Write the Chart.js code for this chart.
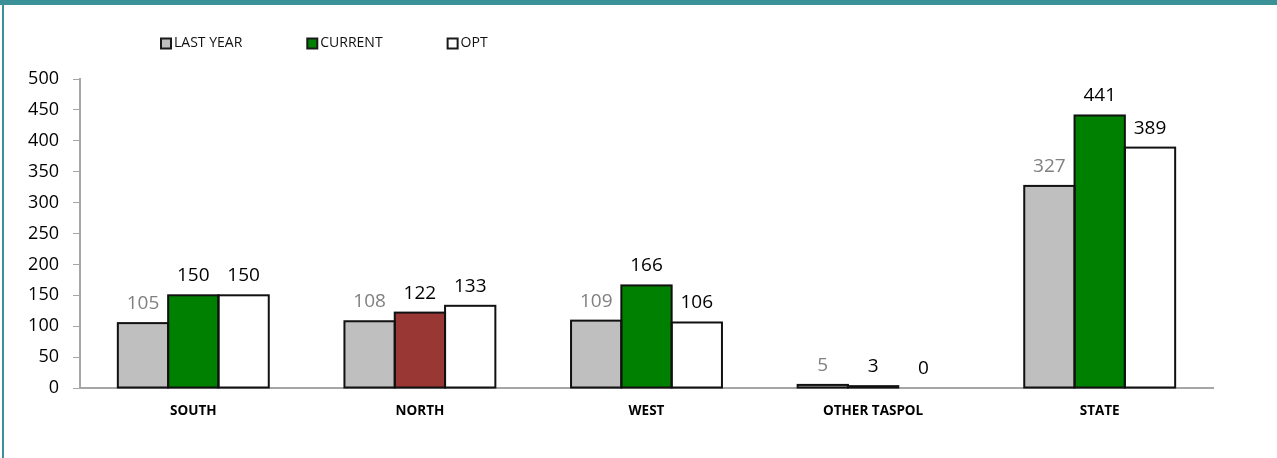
<!DOCTYPE html>
<html>
<head>
<meta charset="utf-8">
<script src="https://cdn.jsdelivr.net/npm/chart.js@4.4.1/dist/chart.umd.min.js"></script>
<style>
    html, body { margin: 0; padding: 0; background: #fff; }
    .topBar { height: 5px; background: #3a9198; }
    .frame { margin-left: 2px; border-left: 2px solid #3a9198; width: 1273px; height: 453px; position: relative; }
    canvas { display: block; }
</style>
</head>
<body>
<div class="topBar"></div>
<div class="frame">
    <canvas id="barChart" width="1273" height="453"></canvas>
</div>
<script>
const categories = ["SOUTH", "NORTH", "WEST", "OTHER TASPOL", "STATE"];
const lastYear = [105, 108, 109, 5, 327];
const current = [150, 122, 166, 3, 441];
const opt = [150, 133, 106, 0, 389];
const currentColors = ["#008000", "#993735", "#008000", "#008000", "#008000"];
const yTicks = [0, 50, 100, 150, 200, 250, 300, 350, 400, 450, 500];

const FONT = "'Open Sans', sans-serif";

/**
 * Outline every bar on its edges (like the office chart)
 * and put the value above it.
 */
const barDecor = {
    id: "barDecor",
    afterDatasetsDraw(chart) {
        const ctx = chart.ctx;
        ctx.save();
        ctx.strokeStyle = "#111";
        ctx.lineWidth = 2;
        chart.data.datasets.forEach(function(ds, i) {
            chart.getDatasetMeta(i).data.forEach(function(bar, j) {
                if (ds.data[j] === 0) return;
                const left = bar.x - bar.width / 2;
                ctx.strokeRect(left, bar.y, bar.width, bar.base - bar.y);
            });
        });
        ctx.font = "19px " + FONT;
        ctx.textAlign = "center";
        ctx.textBaseline = "alphabetic";
        chart.data.datasets.forEach(function(ds, i) {
            ctx.fillStyle = ds.labelColor;
            chart.getDatasetMeta(i).data.forEach(function(bar, j) {
                ctx.fillText(String(ds.data[j]), bar.x, bar.y - 14);
            });
        });
        ctx.restore();
    }
};

/**
 * Legend drawn in a row at the top left.
 */
const rowLegend = {
    id: "rowLegend",
    afterDraw(chart) {
        const ctx = chart.ctx;
        ctx.save();
        ctx.font = "14px " + FONT;
        ctx.textBaseline = "middle";
        let x = 157;
        const y = 38.5;
        chart.data.datasets.forEach(function(ds) {
            ctx.fillStyle = ds.legendColor;
            ctx.fillRect(x, y - 5, 10, 10);
            ctx.strokeStyle = "#1a1a1a";
            ctx.lineWidth = 2;
            ctx.strokeRect(x, y - 5, 10, 10);
            ctx.fillStyle = "#111";
            ctx.fillText(ds.label, x + 13, y);
            x += 13 + ctx.measureText(ds.label).width + 65;
        });
        ctx.restore();
    }
};

new Chart(document.getElementById("barChart"), {
    type: "bar",
    data: {
        labels: categories,
        datasets: [{
            label: "LAST YEAR",
            data: lastYear,
            backgroundColor: "#bfbfbf",
            legendColor: "#bfbfbf",
            labelColor: "#808080",
            borderWidth: 0
        }, {
            label: "CURRENT",
            data: current,
            backgroundColor: currentColors,
            legendColor: "#008000",
            labelColor: "#000",
            borderWidth: 0
        }, {
            label: "OPT",
            data: opt,
            backgroundColor: "#ffffff",
            legendColor: "#ffffff",
            labelColor: "#000",
            borderWidth: 0
        }]
    },
    options: {
        responsive: false,
        animation: false,
        categoryPercentage: 0.666,
        barPercentage: 1,
        layout: { padding: { top: 74, right: 64, left: 0, bottom: 0 } },
        plugins: {
            legend: { display: false },
            tooltip: { enabled: false }
        },
        scales: {
            x: {
                grid: { display: false, drawTicks: false },
                border: { display: true, color: "#a6a6a6", width: 2 },
                ticks: {
                    padding: 15,
                    color: "#000",
                    font: { family: FONT, size: 13.5, weight: "bold" }
                },
                afterFit(scale) { scale.height = 70; }
            },
            y: {
                min: 0,
                max: 500,
                afterBuildTicks(scale) {
                    scale.ticks = yTicks.map(function(v) { return { value: v }; });
                },
                grid: { drawOnChartArea: false, drawTicks: true, tickLength: 7, color: "#a6a6a6", lineWidth: 1 },
                border: { display: true, color: "#a6a6a6", width: 2 },
                ticks: {
                    padding: 14,
                    color: "#000",
                    font: { family: FONT, size: 18 }
                },
                afterFit(scale) { scale.width = 76; }
            }
        }
    },
    plugins: [barDecor, rowLegend]
});
</script>
</body>
</html>
